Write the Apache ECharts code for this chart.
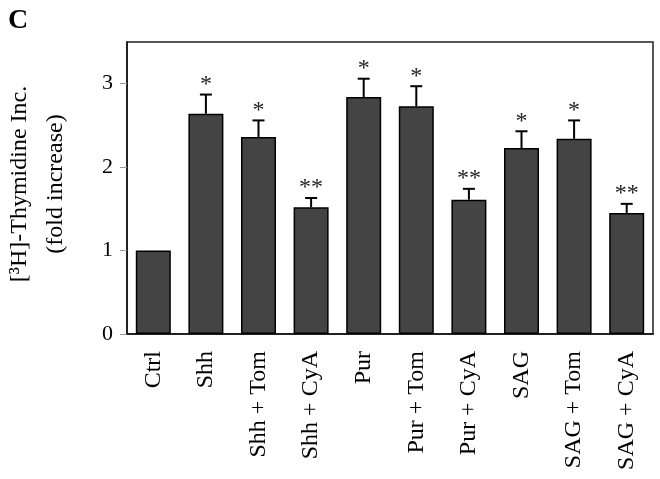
<!DOCTYPE html>
<html>
<head>
<meta charset="utf-8">
<script src="https://cdn.jsdelivr.net/npm/echarts@6/dist/echarts.min.js"></script>
<style>html,body{margin:0;padding:0;background:#fff}#c{width:660px;height:479px}</style>
</head>
<body>
<div id="c"></div>
<script>
const categories = ['Ctrl','Shh','Shh + Tom','Shh + CyA','Pur','Pur + Tom','Pur + CyA','SAG','SAG + Tom','SAG + CyA'];
const means = [1.00, 2.64, 2.36, 1.52, 2.84, 2.73, 1.61, 2.23, 2.34, 1.45];
const upper = [null, 2.87, 2.56, 1.63, 3.06, 2.97, 1.74, 2.43, 2.56, 1.56];
const sig = ['', '*', '*', '**', '*', '*', '**', '*', '*', '**'];
const yTicks = [0, 1, 2, 3];

const FONT = '"Liberation Serif", "Times New Roman", serif';
const chart = echarts.init(document.getElementById('c'), null, {renderer: 'canvas'});

const errData = categories.map((c, i) => [i, means[i], upper[i] == null ? means[i] : upper[i], sig[i], upper[i] == null ? 0 : 1]);

chart.setOption({
  animation: false,
  backgroundColor: '#fff',
  title: {
    text: 'C', left: 3, top: 2,
    textStyle: {fontFamily: FONT, fontSize: 28, fontWeight: 'bold', color: '#000'}
  },
  grid: {left: 127, right: 7, top: 42, bottom: 145, show: true, borderColor: '#222', borderWidth: 1.5, containLabel: false, outerBoundsMode: 'none'},
  xAxis: {
    type: 'category',
    data: categories,
    axisLine: {lineStyle: {color: '#111', width: 1.5}},
    axisTick: {show: false},
    axisLabel: {rotate: 90, fontFamily: FONT, fontSize: 24, color: '#000', margin: 17, interval: 0}
  },
  yAxis: {
    type: 'value',
    min: 0, max: 3.5,
    interval: 1,
    splitLine: {show: false},
    axisLine: {show: true, lineStyle: {color: '#111', width: 1.5}},
    axisTick: {show: true, length: 7, lineStyle: {color: '#999'}, customValues: yTicks},
    axisLabel: {fontFamily: FONT, fontSize: 22, color: '#000', margin: 14, customValues: yTicks},
    name: '[³H]-Thymidine Inc.\n(fold increase)',
    nameLocation: 'middle',
    nameRotate: 90,
    nameGap: 53,
    nameTextStyle: {fontFamily: FONT, fontSize: 24, color: '#000', lineHeight: 36, padding: [0, 0, 0, 8]}
  },
  series: [
    {
      type: 'bar',
      data: means,
      barWidth: 35,
      itemStyle: {color: '#444444', borderColor: '#000', borderWidth: 1.5},
      z: 2
    },
    {
      type: 'custom',
      data: errData,
      z: 3,
      renderItem: function (params, api) {
        const i = api.value(0);
        const base = api.coord([i, api.value(1)]);
        const top = api.coord([i, api.value(2)]);
        const label = sig[i];
        const has = api.value(4);
        const children = [];
        if (has) {
          children.push({type: 'line', shape: {x1: base[0], y1: base[1], x2: top[0], y2: top[1]}, style: {stroke: '#000', lineWidth: 2}});
          children.push({type: 'line', shape: {x1: top[0] - 6, y1: top[1], x2: top[0] + 6, y2: top[1]}, style: {stroke: '#000', lineWidth: 2}});
        }
        if (label) {
          children.push({type: 'text', x: top[0], y: top[1] + 2, style: {text: label, font: '24px ' + FONT, fill: '#222', textAlign: 'center', textVerticalAlign: 'bottom'}});
        }
        return {type: 'group', children: children};
      }
    }
  ]
});
</script>
</body>
</html>
